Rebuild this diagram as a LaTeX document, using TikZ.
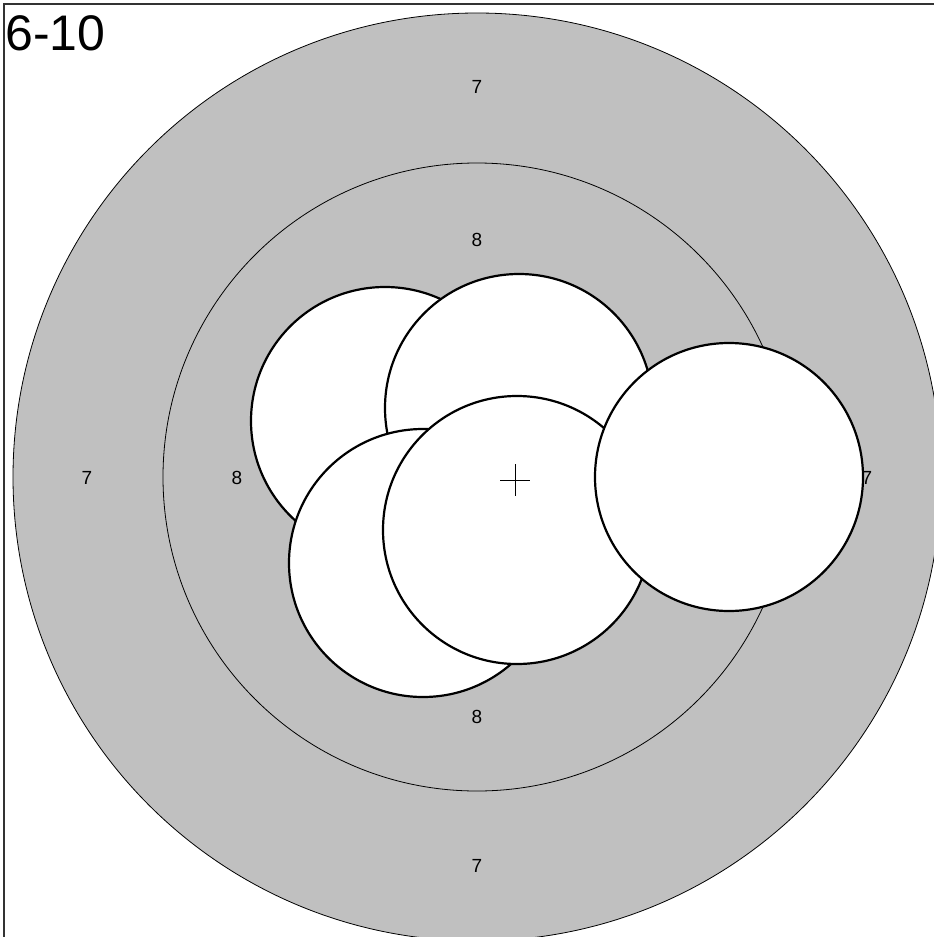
\documentclass[tikz,border=0pt]{standalone}
\usepackage{fontspec}
\setmainfont{Liberation Sans}
\usepackage{xcolor}
\usepackage{tikz}
\usetikzlibrary{positioning,calc}

\definecolor{targetgray}{HTML}{C0C0C0}

\tikzset{
	ring/.style={draw=black, line width=0.8pt},
	shot/.style={draw=black, circle, fill=white, line width=2.2pt, minimum size=268pt, inner sep=0pt},
	score/.style={font=\fontsize{19}{19}\selectfont, inner sep=0pt},
}

\begin{document}
\begin{tikzpicture}[x=1pt, y=-1pt]
		\useasboundingbox (0,0) rectangle (934,937);

		% target rings
		\filldraw[ring, fill=targetgray] (477,477) circle (464);
		\draw[ring] (477,477) circle (314);

		\node[score] (s7t) at (477,87) {7};
		\node[score] (s7b) at (477,866) {7};
		\node[score] (s7l) at (87,478) {7};
		\node[score] (s7r) at (867,478) {7};
		\node[score] (s8t) at (477,240) {8};
		\node[score] (s8b) at (477,717) {8};
		\node[score] (s8l) at (237,478) {8};

		% shots
		\foreach \i/\x/\y in {1/385/421, 2/519/408, 3/423/563, 4/517/530, 5/729/477}
			\node[shot] (shot\i) at (\x,\y) {};

		% group centre
		\coordinate (gc) at (515,480);
		\draw[line width=0.9pt] ($(gc)+(-15,0)$) -- ($(gc)+(15,0)$);
		\draw[line width=0.9pt] ($(gc)+(0,-16)$) -- ($(gc)+(0,16)$);

		% frame
		\draw[line width=1.2pt, black!80] (4,937) -- (4,4) -- (934,4);

		\node[anchor=base west, inner sep=0pt, font=\fontsize{50}{50}\selectfont] (title) at (5,50) {6-10};
	\end{tikzpicture}
\end{document}
